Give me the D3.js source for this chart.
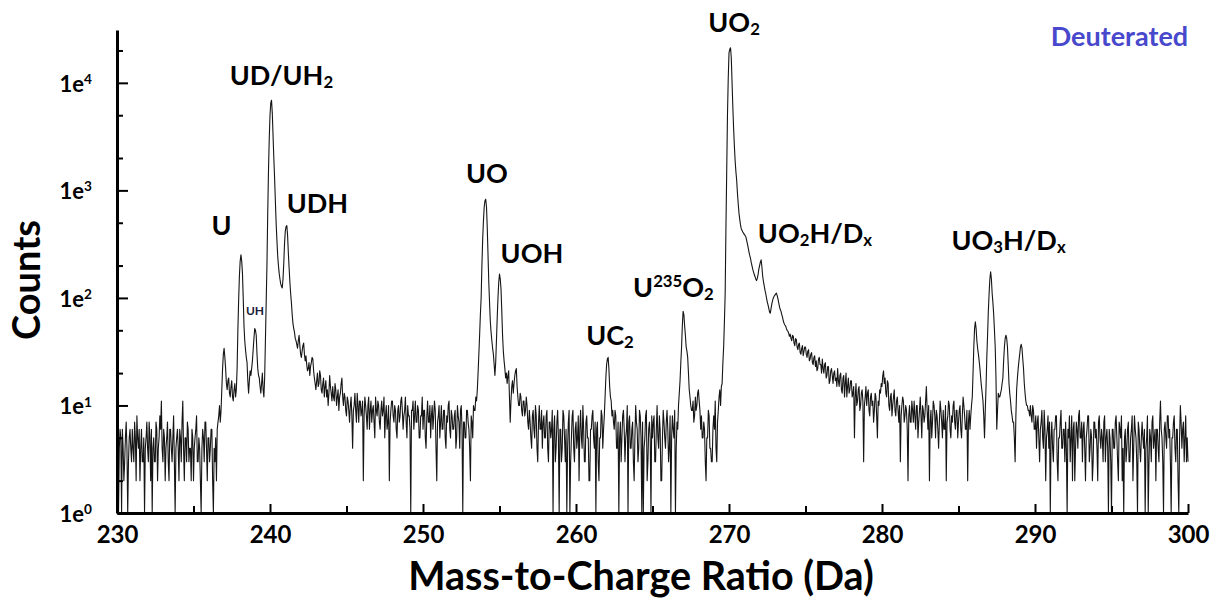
<!DOCTYPE html>
<html>
<head>
<meta charset="utf-8">
<script src="https://cdn.jsdelivr.net/npm/d3@7"></script>
<style>
  body { margin: 0; background: #fff; }
  svg { display: block; }
  text { font-family: Lato, "Open Sans", "DejaVu Sans", sans-serif; font-weight: 700; }
</style>
</head>
<body>
<svg id="chart" width="1214" height="600"></svg>
<script>
// ---------------- data ----------------
const massStart = 230;   // m/z of first bin (Da)
const binWidth = 0.05;   // Da per bin

// counts per 0.05 Da bin, one row per Da
const counts230 = [
  5,3,1,4,6,5,1,6,4,2,3,5,7,4,1,3,5,6,4,3,
  6,4,3,7,5,2,8,5,4,6,2,4,6,3,3,5,1,4,5,7,
  4,3,7,5,2,6,1,4,5,3,3,7,6,2,4,5,8,6,11,4,
  3,6,5,2,4,5,7,3,2,6,6,4,3,5,8,3,1,4,5,6,
  4,2,6,5,3,7,11,4,2,5,5,3,7,6,3,4,4,2,6,5,
  2,4,5,6,8,3,3,5,4,2,1,4,6,5,3,7,7,4,2,5,
  5,3,4,6,6,2,1,4,3,5,2,6,7,8,10,7,9,14,22,30,
  34,28,22,16,14,17,18,13,12,15,17,12,11,14,16,12,14,22,50,95,
  160,220,252,220,170,100,55,40,33,28,25,17,13,17,21,19,22,26,33,42,
  52,50,45,30,22,19,18,15,13,16,20,14,12,18,40,90,200,600,1500,3000
];
const counts240 = [
  5000,6500,6900,5200,3200,2000,1300,800,500,350,250,200,170,150,135,128,124,150,210,320,
  420,460,470,380,260,190,140,110,90,70,58,52,48,42,40,37,34,40,45,36,
  30,28,32,36,38,30,26,29,24,21,22,25,19,23,25,28,27,21,18,16,
  14,17,20,15,16,21,19,14,13,16,18,12,15,17,12,14,10,13,19,15,
  13,11,15,12,11,16,14,10,12,14,9,12,13,16,18,12,10,13,12,9,
  8,12,11,9,7,10,12,8,4,9,10,13,9,7,13,10,7,11,11,8,
  9,11,2,8,12,10,8,6,10,12,6,9,11,7,9,10,7,5,12,9,
  8,11,10,7,6,9,11,8,9,12,5,8,10,6,7,10,2,7,9,11,
  11,8,7,10,9,6,5,9,10,7,8,11,12,9,6,8,9,12,7,5,
  10,8,8,6,1,9,9,11,6,8,11,7,7,10,9,5,5,8,8,12
];
const counts250 = [
  6,9,9,5,4,8,11,7,7,10,5,8,10,6,8,11,9,4,2,7,
  8,10,5,7,10,6,6,9,9,5,4,8,7,10,11,6,5,9,8,6,
  6,8,9,4,5,10,8,7,4,9,10,6,1,7,7,5,5,9,9,7,
  6,4,2,8,7,5,10,9,9,12,11,14,20,30,45,70,100,200,350,520,
  700,800,828,700,450,250,140,90,60,48,40,34,30,24,19,25,40,65,100,140,
  167,150,120,75,45,32,26,22,18,20,16,19,21,12,7,11,15,17,13,16,
  19,21,22,15,12,10,10,13,12,9,8,11,11,8,9,12,10,7,6,9,
  7,5,4,8,9,6,5,10,8,4,3,7,10,6,6,9,4,7,8,5,
  5,8,9,4,3,7,7,5,6,9,1,6,8,3,4,7,9,5,1,6,
  6,3,4,9,8,5,3,6,1,4,7,9,1,3,5,8,9,4,3,6
];
const counts260 = [
  7,4,5,8,2,6,9,5,4,10,6,3,3,7,8,5,5,2,2,6,
  6,8,9,5,4,7,1,6,7,3,2,5,5,9,8,4,6,8,12,18,
  24,27,28,22,15,12,11,8,9,7,6,9,8,4,4,7,1,5,7,3,
  5,8,9,6,3,5,6,10,1,7,8,4,4,6,7,3,2,5,10,7,
  6,3,4,9,8,5,1,7,1,4,5,8,9,2,3,6,7,5,1,8,
  5,7,8,3,3,6,10,5,4,8,6,2,2,5,9,7,5,4,7,9,
  6,3,4,8,1,5,8,6,5,9,1,4,7,6,10,13,17,25,35,55,
  75,70,55,45,35,32,28,20,14,12,10,9,9,11,7,8,12,9,10,13,
  14,11,9,6,8,5,5,7,6,3,2,5,5,9,8,4,4,3,3,6,
  8,6,11,4,3,7,9,12,14,10,15,16,25,35,60,110,450,1500,5000,11000
];
const counts270 = [
  19000,20500,21200,17000,10000,6000,3800,2600,1900,1500,1250,950,760,620,540,480,440,425,410,400,
  390,380,370,345,320,295,270,250,235,215,200,185,175,165,158,150,145,152,165,185,
  200,215,226,195,160,142,130,118,110,100,92,86,80,74,72,80,88,95,100,104,
  106,109,111,105,98,90,83,78,75,70,66,61,58,56,55,52,50,49,47,44,
  46,42,40,45,44,38,36,42,41,35,33,37,38,31,30,34,36,29,32,35,
  35,30,28,32,33,26,27,30,31,25,24,28,29,23,26,21,22,27,28,24,
  24,20,27,22,20,24,25,18,19,23,23,16,17,21,22,19,16,20,21,17,
  18,15,22,17,15,19,20,14,13,18,19,12,16,20,12,15,18,13,14,17,
  17,12,13,15,5,12,16,10,11,14,15,9,10,13,14,11,3,10,12,15,
  10,13,14,9,8,12,13,10,11,7,9,13,12,8,5,11,10,14,13,16
];
const counts280 = [
  15,19,21,16,18,13,12,17,16,10,9,12,13,8,10,12,14,9,8,11,
  12,9,7,10,3,8,10,12,11,7,8,10,9,6,2,8,10,7,7,11,
  9,7,11,8,6,10,10,5,7,9,12,8,5,10,9,7,8,11,15,9,
  6,10,2,7,9,5,7,11,10,8,5,9,8,6,4,7,11,9,7,5,
  9,6,6,10,2,7,8,11,10,6,5,8,7,10,11,7,6,9,9,5,
  7,9,10,6,5,8,12,10,8,6,6,9,2,7,9,6,8,10,12,20,
  35,52,60,52,40,34,30,26,22,18,15,13,11,8,5,9,15,28,45,75,
  110,150,175,150,110,90,70,50,35,18,6,9,13,12,12,13,14,16,18,26,
  35,42,45,42,35,24,16,13,11,9,8,7,7,5,3,8,14,18,22,26,
  30,35,37,34,27,22,16,13,11,10,10,9,9,8,10,8,7,10,9,6
];
const counts290 = [
  6,8,4,7,8,5,3,6,7,9,5,4,9,6,2,5,6,8,4,7,
  1,5,7,4,3,6,6,8,8,3,2,5,5,7,9,4,4,6,6,3,
  7,4,1,6,5,8,3,5,8,2,6,7,2,4,7,6,4,8,9,5,
  5,7,3,6,7,4,2,5,6,8,8,3,4,6,5,2,3,7,7,5,
  6,4,2,7,8,5,4,6,5,3,7,8,3,5,6,4,1,6,5,3,
  1,6,6,4,4,7,8,5,3,2,7,6,5,8,2,4,1,5,6,3,
  4,6,7,3,3,5,6,8,2,4,8,6,5,3,1,7,6,4,3,5,
  7,5,4,6,1,4,5,8,1,3,6,5,3,7,8,4,5,6,2,6,
  6,4,3,7,11,6,5,3,1,6,7,5,4,8,8,5,6,3,1,5,
  5,7,8,4,3,6,6,2,1,5,10,7,4,6,7,3,5,8,3,5,
  3
];

// axes
const xDomain = [230, 300];
const yDomain = [1, 31000];
const xTickValues = [230, 240, 250, 260, 270, 280, 290, 300];
const xMinorTickValues = [235, 245, 255, 265, 275, 285, 295];
const yTickValues = [1, 10, 100, 1000, 10000];
const yTickExponents = ["0", "1", "2", "3", "4"];
const yMinorTickValues = [2, 5, 20, 50, 200, 500, 2000, 5000, 20000];

// peak labels: rich-text parts (text, "" | "sub" | "sup")
const labelTexts = [
  [["U", ""]],
  [["UH", ""]],
  [["UD/UH", ""], ["2", "sub"]],
  [["UDH", ""]],
  [["UO", ""]],
  [["UOH", ""]],
  [["UC", ""], ["2", "sub"]],
  [["U", ""], ["235", "sup"], ["O", ""], ["2", "sub"]],
  [["UO", ""], ["2", "sub"]],
  [["UO", ""], ["2", "sub"], ["H/D", ""], ["x", "sub"]],
  [["UO", ""], ["3", "sub"], ["H/D", ""], ["x", "sub"]]
];
// label anchor in data units: [m/z, counts] (text centre / baseline)
const labelAnchors = [
  [236.83, 385], [239.02, 69.5], [240.75, 9580], [243.1, 618],
  [254.18, 1175], [257.12, 212], [262.22, 36.5], [266.37, 102],
  [270.33, 29800], [275.62, 325], [288.27, 280]
];
const tagText = "Deuterated";
const tagAnchor = [295.52, 22100];
const xTitle = "Mass-to-Charge Ratio (Da)";
const yTitle = "Counts";

// ---------------- drawing ----------------
const svg = d3.select("#chart");
const x = d3.scaleLinear().domain(xDomain).range([117, 1188]);
const y = d3.scaleLog().domain(yDomain).range([513, 30]);

const allCounts = [].concat(counts230, counts240, counts250, counts260, counts270, counts280, counts290);
const spectrum = allCounts.map((c, i) => ({ mz: massStart + i * binWidth, c }));

const line = d3.line().x(d => x(d.mz)).y(d => y(d.c));
svg.append("path")
  .datum(spectrum)
  .attr("d", line)
  .attr("fill", "none")
  .attr("stroke", "#151515")
  .attr("stroke-width", 1.1)
  .attr("stroke-linejoin", "round");

// x axis
const gx = svg.append("g").attr("transform", "translate(0,513)");
gx.call(d3.axisBottom(x).tickValues(xTickValues).tickSize(-9).tickSizeOuter(0)
  .tickPadding(13).tickFormat(d3.format("d")));
gx.append("g").call(d3.axisBottom(x).tickValues(xMinorTickValues).tickSize(-7).tickSizeOuter(0).tickFormat(""))
  .select(".domain").remove();
gx.selectAll(".domain").attr("stroke", "#000").attr("stroke-width", 3);
gx.selectAll(".tick line").attr("stroke", "#000").attr("stroke-width", 2);
gx.selectAll(".tick text").attr("font-size", 24).attr("fill", "#000")
  .style("font-family", "Lato, sans-serif").style("font-weight", 700);

// y axis
const gy = svg.append("g").attr("transform", "translate(117,0)");
gy.call(d3.axisLeft(y).tickValues(yTickValues).tickSize(-11).tickSizeOuter(0).tickFormat(""));
gy.append("g").call(d3.axisLeft(y).tickValues(yMinorTickValues).tickSize(-6).tickSizeOuter(0).tickFormat(""))
  .select(".domain").remove();
gy.selectAll(".domain").attr("stroke", "#000").attr("stroke-width", 3);
gy.selectAll(".tick line").attr("stroke", "#000").attr("stroke-width", 2);

function rich(sel, parts, fs) {
  let shift = 0;
  parts.forEach(([s, kind]) => {
    const target = kind === "sub" ? fs * 0.1 : kind === "sup" ? -fs * 0.36 : 0;
    sel.append("tspan")
      .attr("dy", target - shift)
      .attr("font-size", kind ? fs * 0.62 : fs)
      .text(s);
    shift = target;
  });
}

yTickValues.forEach((v, i) => {
  const t = svg.append("text")
    .attr("x", 92).attr("y", y(v) + 9)
    .attr("text-anchor", "end").attr("fill", "#000");
  rich(t, [["1e", ""], [yTickExponents[i], "sup"]], 22);
});

// peak labels
labelTexts.forEach((parts, i) => {
  const [mz, c] = labelAnchors[i];
  const small = parts.length === 1 && parts[0][0] === "UH";
  const t = svg.append("text")
    .attr("x", x(mz)).attr("y", y(c))
    .attr("text-anchor", "middle")
    .attr("fill", small ? "#1c1c3a" : "#000");
  rich(t, parts, small ? 12 : 27);
});

svg.append("text")
  .attr("x", x(tagAnchor[0])).attr("y", y(tagAnchor[1]))
  .attr("text-anchor", "middle").attr("font-size", 27).attr("fill", "#4848cc")
  .text(tagText);

// axis titles
svg.append("text")
  .attr("x", 641).attr("y", 590)
  .attr("text-anchor", "middle").attr("font-size", 39.5).attr("fill", "#000")
  .text(xTitle);
svg.append("text")
  .attr("transform", "translate(40,280) rotate(-90)")
  .attr("text-anchor", "middle").attr("font-size", 38).attr("fill", "#000")
  .text(yTitle);
</script>
</body>
</html>
